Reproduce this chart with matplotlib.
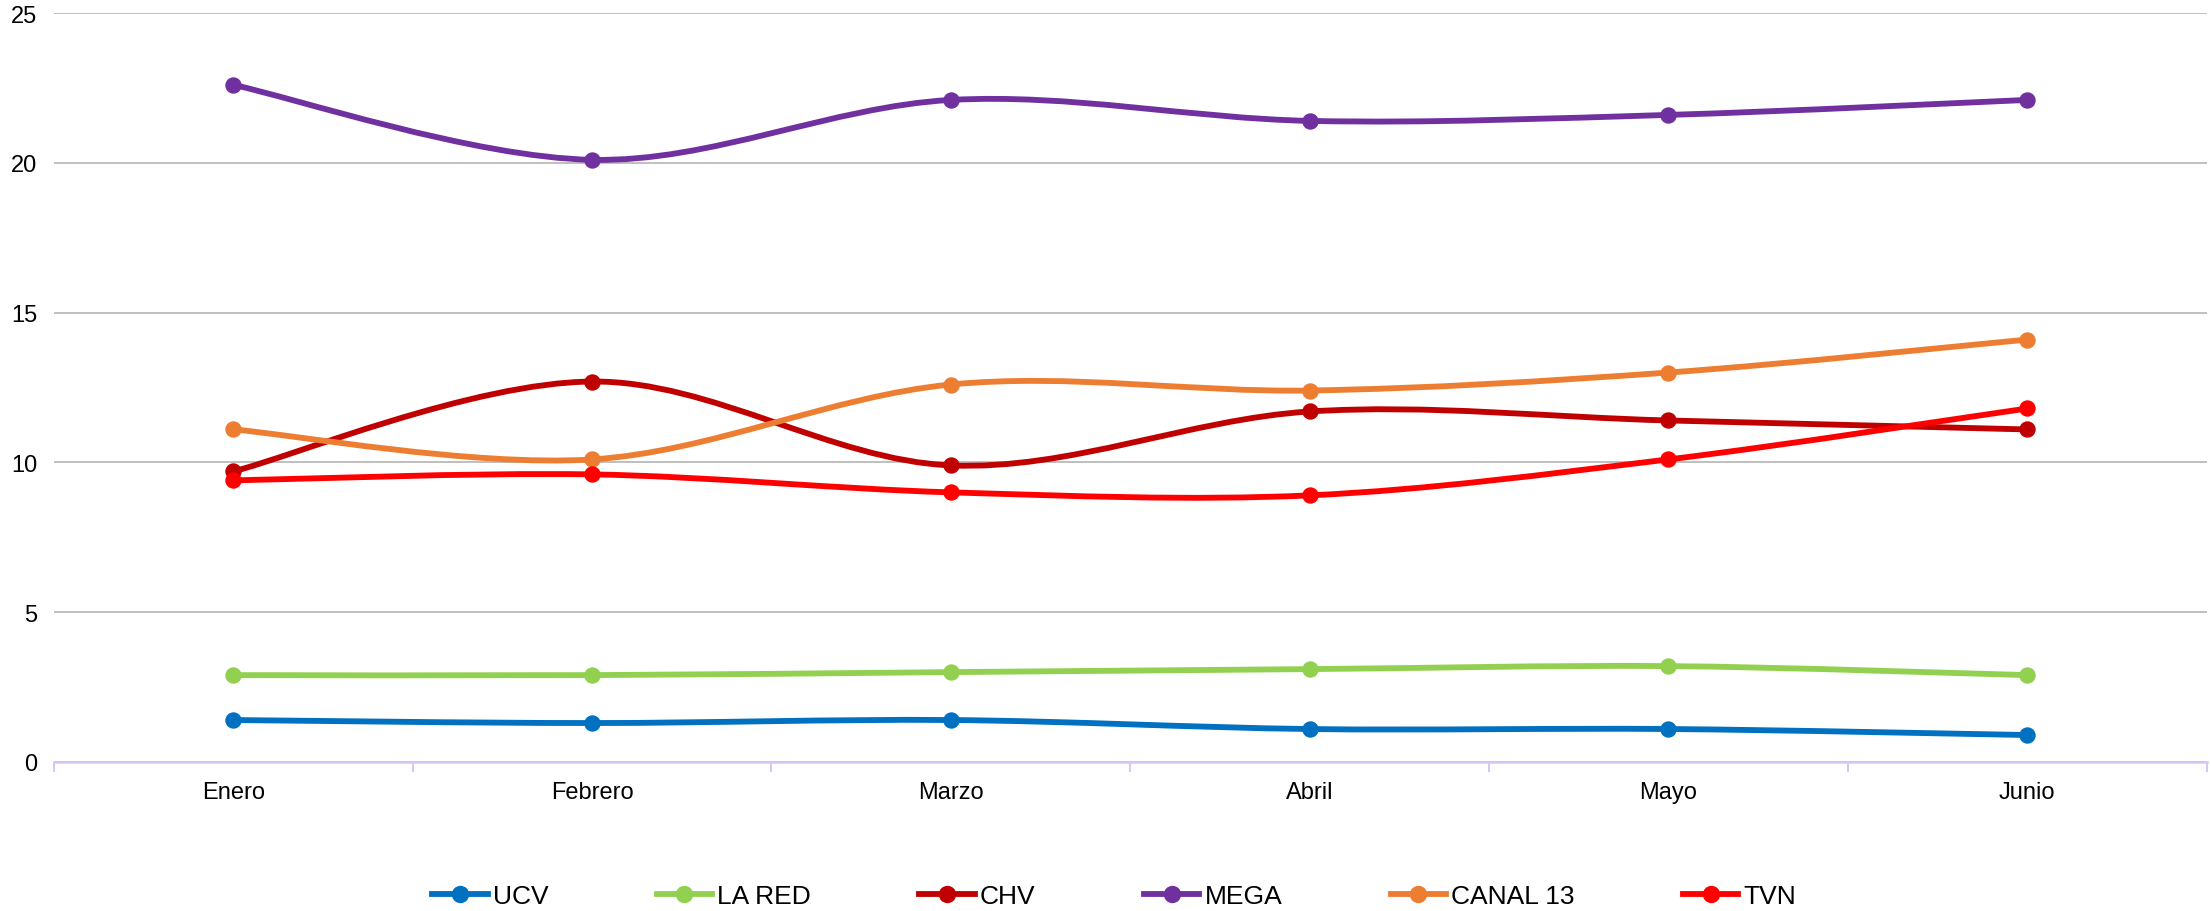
import numpy as np
import matplotlib
matplotlib.use("Agg")
import matplotlib.pyplot as plt
from matplotlib.path import Path
from matplotlib.patches import PathPatch
from matplotlib.lines import Line2D

plt.rcParams['font.family'] = ['Liberation Sans', 'DejaVu Sans']

meses = ['Enero', 'Febrero', 'Marzo', 'Abril', 'Mayo', 'Junio']
canales = ['UCV', 'LA RED', 'CHV', 'MEGA', 'CANAL 13', 'TVN']
colores = ['#0070C0', '#92D050', '#C00000', '#7030A0', '#ED7D31', '#FF0000']

ucv = [1.4, 1.3, 1.4, 1.1, 1.1, 0.9]
la_red = [2.9, 2.9, 3.0, 3.1, 3.2, 2.9]
chv = [9.7, 12.7, 9.9, 11.7, 11.4, 11.1]
mega = [22.6, 20.1, 22.1, 21.4, 21.6, 22.1]
canal13 = [11.1, 10.1, 12.6, 12.4, 13.0, 14.1]
tvn = [9.4, 9.6, 9.0, 8.9, 10.1, 11.8]
series = [ucv, la_red, chv, mega, canal13, tvn]


def smooth_path(x, y):
    # bezier segments like the "smoothed line" option of spreadsheet charts
    p = np.column_stack([x, y]).astype(float)
    n = len(p)
    verts = [p[0]]
    codes = [Path.MOVETO]
    for i in range(n - 1):
        p0 = p[i - 1] if i > 0 else p[i]
        p3 = p[i + 2] if i + 2 < n else p[i + 1]
        c1 = p[i] + (p[i + 1] - p0) / 6
        c2 = p[i + 1] - (p3 - p[i]) / 6
        verts += [c1, c2, p[i + 1]]
        codes += [Path.CURVE4] * 3
    return Path(verts, codes)


fig = plt.figure(figsize=(22.11, 9.12), dpi=100)
ax = fig.add_axes([0.0244, 0.1634, 0.9736, 0.8212])

x = np.arange(len(meses))
for vals, name, c in zip(series, canales, colores):
    ax.add_patch(PathPatch(smooth_path(x, vals), facecolor='none', edgecolor=c,
                           lw=4.2, capstyle='round', zorder=3))
    ax.plot(x, vals, 'o', color=c, ms=10.8, zorder=4)

ax.set_xlim(-0.5, len(meses) - 0.5)
ax.set_ylim(0, 25)
ax.set_yticks([0, 5, 10, 15, 20, 25])
ax.set_xticks(x)
ax.set_xticklabels(meses)
ax.set_xticks(np.arange(-0.5, len(meses), 1), minor=True)
ax.tick_params(axis='x', which='major', length=0, pad=14, labelsize=17)
ax.tick_params(axis='x', which='minor', length=7, width=1.5, color='#D9C6F2')
ax.tick_params(axis='y', length=0, pad=12, labelsize=17)
ax.grid(axis='y', color='#BFBFBF', lw=1.4)
ax.set_axisbelow(True)
for s in ['left', 'right', 'top']:
    ax.spines[s].set_visible(False)
ax.spines['bottom'].set_color('#D9C6F2')
ax.spines['bottom'].set_linewidth(1.8)
ax.spines['bottom'].set_zorder(2)

handles = [Line2D([], [], color=c, lw=4.2, marker='o', ms=11.5) for c in colores]
fig.legend(handles, canales, loc='center', bbox_to_anchor=(0.504, 0.0164), ncol=6,
           frameon=False, fontsize=19, handlelength=2.1, handletextpad=0.2,
           columnspacing=4.1, borderpad=0, borderaxespad=0)

fig.savefig('out.png', dpi=100)
